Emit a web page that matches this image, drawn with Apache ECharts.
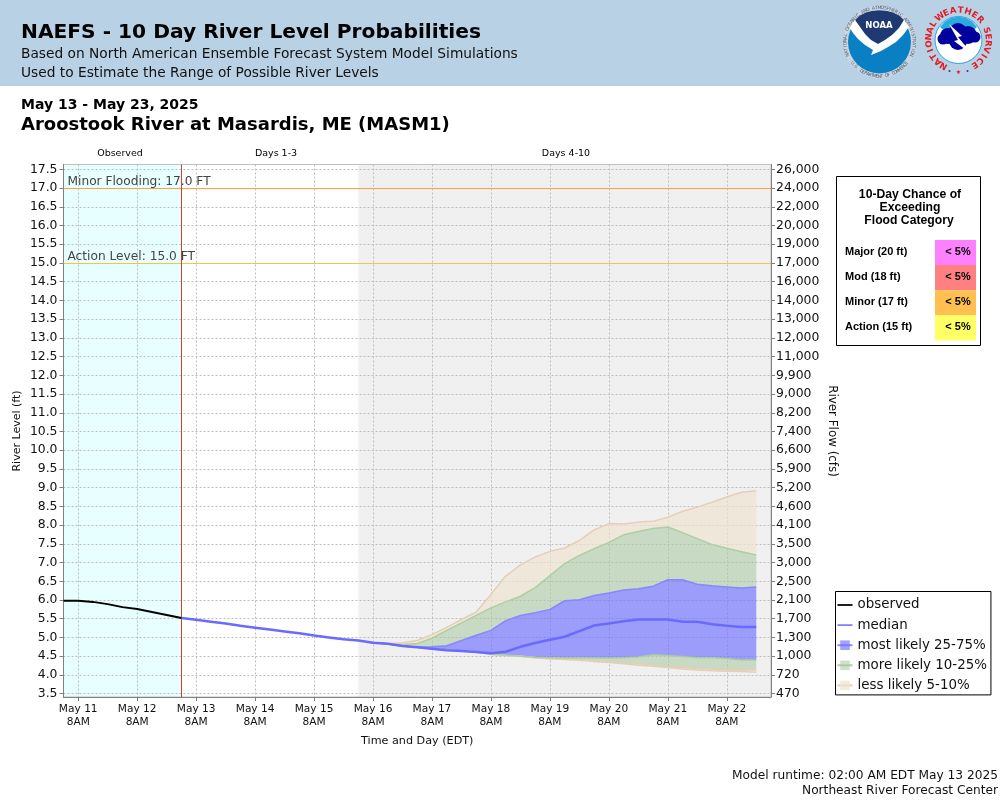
<![CDATA[<!DOCTYPE html>
<html>
<head>
<meta charset="utf-8">
<style>html,body{margin:0;padding:0;background:#fff}#container{width:1000px;height:800px}</style>
<script src="https://cdn.jsdelivr.net/npm/echarts@6/dist/echarts.min.js"></script>
</head>
<body>
<div id="container"></div>
<script>
// left axis stages, and the flow label printed opposite each one
var stageTicks = [3.5,4,4.5,5,5.5,6,6.5,7,7.5,8,8.5,9,9.5,10,10.5,11,11.5,12,12.5,13,13.5,14,14.5,15,15.5,16,16.5,17,17.5];
var flowLabels = ['470','720','1,000','1,300','1,700','2,100','2,500','3,000','3,500','4,100','4,600','5,200','5,900','6,600','7,400','8,200','9,000','9,900','11,000','12,000','13,000','14,000','16,000','17,000','19,000','20,000','22,000','24,000','26,000'];
var dayLabels = ['May 11','May 12','May 13','May 14','May 15','May 16','May 17','May 18','May 19','May 20','May 21','May 22'];

// every series is 6-hourly
var observedStart = '2025-05-11T02:00:00';
var observed = [5.98,5.98,5.95,5.89,5.81,5.76,5.68,5.60,5.52];

var medianStart = '2025-05-13T02:00:00';
var median = [5.52,5.47,5.42,5.37,5.31,5.26,5.21,5.16,5.11,5.05,5.00,4.95,4.92,
    4.86,4.83,4.77,4.74,4.70,4.66,4.64,4.61,4.58,4.62,4.75,4.85,4.94,5.02,5.17,5.32,5.37,5.43,5.48,5.48,5.48,5.42,5.42,5.35,5.31,5.28,5.28];

var bandStart = '2025-05-16T08:00:00';
var p95 = [4.86,4.83,4.86,4.92,5.08,5.27,5.48,5.68,6.15,6.64,6.94,7.15,7.30,7.39,7.59,7.87,8.04,8.03,8.08,8.10,8.21,8.37,8.48,8.61,8.75,8.88,8.92];
var p90 = [4.86,4.83,4.81,4.84,4.98,5.19,5.39,5.59,5.79,5.95,6.10,6.33,6.65,6.97,7.19,7.37,7.54,7.74,7.83,7.91,7.95,7.80,7.64,7.48,7.38,7.29,7.20];
var p75 = [4.86,4.83,4.77,4.74,4.75,4.78,4.92,5.06,5.19,5.45,5.59,5.66,5.75,5.98,6.01,6.12,6.19,6.27,6.30,6.37,6.54,6.54,6.42,6.38,6.35,6.32,6.35];
var p25 = [4.86,4.83,4.77,4.74,4.70,4.66,4.64,4.61,4.55,4.53,4.50,4.47,4.46,4.45,4.46,4.45,4.45,4.46,4.48,4.54,4.52,4.49,4.46,4.46,4.44,4.40,4.40];
var p10 = [4.86,4.83,4.77,4.74,4.70,4.66,4.64,4.61,4.55,4.52,4.50,4.46,4.43,4.42,4.41,4.38,4.35,4.32,4.30,4.26,4.22,4.20,4.17,4.15,4.13,4.13,4.13];
var p5  = [4.86,4.83,4.77,4.74,4.70,4.66,4.64,4.61,4.55,4.52,4.50,4.46,4.43,4.41,4.39,4.36,4.33,4.30,4.26,4.23,4.20,4.16,4.13,4.11,4.10,4.09,4.07];

// flood chance table
var floodNames = ['Major (20 ft)','Mod (18 ft)','Minor (17 ft)','Action (15 ft)'];
var floodChance = ['< 5%','< 5%','< 5%','< 5%'];
var floodColors = ['#ff80ff','#ff8080','#ffc050','#ffff66'];

var SIX_HOURS = 6 * 3600 * 1000;
var axisStart = new Date('2025-05-11T02:00:00').getTime();
var axisEnd = new Date('2025-05-23T02:00:00').getTime();
var runtime = new Date('2025-05-13T02:00:00').getTime();
var days4to10 = new Date('2025-05-16T02:00:00').getTime();
var font = 'DejaVu Sans';

function toPairs(start, values) {
    var t0 = new Date(start).getTime();
    return values.map(function (v, i) { return [t0 + i * SIX_HOURS, v]; });
}
// value first: echarts stacks on the first numeric column
function bandPairs(values) {
    var t0 = new Date(bandStart).getTime();
    return values.map(function (v, i) { return [v, t0 + i * SIX_HOURS]; });
}
function diffPairs(upper, lower) {
    return bandPairs(upper.map(function (v, i) { return +(v - lower[i]).toFixed(2); }));
}

var dayTicks = dayLabels.map(function (d, i) { return axisStart + SIX_HOURS + i * 4 * SIX_HOURS; });

var BLUE = {fill: 'rgba(112,112,255,0.66)', line: 'rgba(130,130,255,0.9)'};
var GREEN = {fill: 'rgba(170,200,160,0.55)', line: 'rgba(170,205,160,0.95)'};
var TAN = {fill: 'rgba(240,226,210,0.7)', line: 'rgba(228,205,180,0.95)'};

function bandLayer(name, data, c) {
    return {
        name: name, type: 'line', stack: 'bands', data: data, z: 3,
        encode: {x: 1, y: 0},
        symbol: 'rect', symbolSize: 9, showSymbol: false,
        lineStyle: {color: c.line, width: 1.5},
        itemStyle: {color: c.fill, borderColor: c.line},
        areaStyle: {color: c.fill, opacity: 1}
    };
}

// graphic helpers
function txt(x, y, text, size, weight, extra) {
    return {
        type: 'text', x: x, y: y, silent: true,
        style: Object.assign({
            text: text, font: (weight || 'normal') + ' ' + size + 'px "' + font + '"',
            fill: '#000', textAlign: 'left', textVerticalAlign: 'middle'
        }, extra || {})
    };
}
// letters placed one by one around a circle, angles clockwise from the top
function ringText(text, cx, cy, r, from, to, size, weight, color, flip) {
    var out = [];
    for (var i = 0; i < text.length; i++) {
        var deg = from + (to - from) * i / (text.length - 1);
        var a = deg * Math.PI / 180;
        out.push({
            type: 'text', silent: true,
            x: cx + r * Math.sin(a), y: cy - r * Math.cos(a),
            rotation: -a + (flip ? Math.PI : 0),
            style: {text: text[i], font: weight + ' ' + size + 'px "' + font + '"', fill: color, textAlign: 'center', textVerticalAlign: 'middle'}
        });
    }
    return out;
}
function circle(cx, cy, r, fill, stroke) {
    return {type: 'circle', silent: true, shape: {cx: cx, cy: cy, r: r}, style: {fill: fill, stroke: stroke || null}};
}
function poly(points, fill) {
    return {type: 'polygon', silent: true, shape: {points: points}, style: {fill: fill}};
}

var graphics = [
    {type: 'rect', silent: true, shape: {x: 0, y: 0, width: 1000, height: 86}, style: {fill: '#b9d1e4'}},
    txt(21, 33, 'NAEFS - 10 Day River Level Probabilities', 20.2, 'bold'),
    txt(21, 54.5, 'Based on North American Ensemble Forecast System Model Simulations', 13.75, 'normal', {fill: '#111'}),
    txt(21, 73, 'Used to Estimate the Range of Possible River Levels', 13.75, 'normal', {fill: '#111'}),
    txt(21, 105, 'May 13 - May 23, 2025', 14, 'bold'),
    txt(21, 125.5, 'Aroostook River at Masardis, ME (MASM1)', 18, 'bold'),
    txt(120, 153.5, 'Observed', 9.5, 'normal', {textAlign: 'center'}),
    txt(276, 153.5, 'Days 1-3', 9.5, 'normal', {textAlign: 'center'}),
    txt(566, 153.5, 'Days 4-10', 9.5, 'normal', {textAlign: 'center'}),
    txt(998, 776, 'Model runtime: 02:00 AM EDT May 13 2025', 12.2, 'normal', {textAlign: 'right', fill: '#111'}),
    txt(998, 791, 'Northeast River Forecast Center', 12.2, 'normal', {textAlign: 'right', fill: '#111'}),

    // axis names, set by hand so they stay clear of the grid layout
    Object.assign(txt(17, 431, 'River Level (ft)', 11, 'normal', {textAlign: 'center', fill: '#111'}), {rotation: Math.PI / 2}),
    Object.assign(txt(832, 431, 'River Flow (cfs)', 11.9, 'normal', {textAlign: 'center', fill: '#111'}), {rotation: -Math.PI / 2}),

    // NOAA logo
    circle(879.5, 42, 36.5, '#c9d5e0'),
    circle(879.5, 42, 31.5, '#0a80c4'),
    poly([[855,20],[860,15.5],[866,12.5],[872,11],[879.5,10.5],[887,11],[893,12.5],[899,15.5],[904,20],[899,28],[892,35],[885,40],[878,44],[871,40],[865,34],[860,27]], '#1f3a72'),
    poly([[849,27],[855,20],[860,27],[865,34],[871,40],[878,44],[885,40],[892,35],[899,28],[904,20],[909,27],[903,35],[896,42],[888,47],[881,51],[871,55],[873,50],[865,45],[858,39],[853,33]], '#ffffff'),
    txt(879, 25.5, 'NOAA', 8.5, 'bold', {textAlign: 'center', fill: '#ffffff'}),

    // NWS logo
    circle(958.5, 40, 23.5, '#ffffff', '#29a3dc'),
    poly([[940,27],[945,21.5],[951,18],[958.5,16.5],[966,18],[972,21.5],[977,27],[968,35],[958.5,32],[949,35]], '#29abe2'),
    circle(948, 36, 8, '#00009c'), circle(958, 32, 9, '#00009c'), circle(968, 35, 9, '#00009c'),
    circle(975, 37, 5.5, '#00009c'), circle(943, 39, 5.5, '#00009c'), circle(958, 41, 9, '#00009c'),
    poly([[949,24],[962,36],[958,37],[973,55],[954,41],[958,40]], '#ffffff'),
    circle(949.5, 71, 1, '#1f3a9c'), circle(967.5, 71, 1, '#1f3a9c'),

    // flood chance box
    {type: 'rect', silent: true, shape: {x: 836.5, y: 176.5, width: 144, height: 169}, style: {fill: '#fff', stroke: '#000', lineWidth: 1}},
    txt(910, 195, '10-Day Chance of', 12, 'bold', {textAlign: 'center', font: 'bold 12.2px "Liberation Sans"'}),
    txt(910, 208, 'Exceeding', 12, 'bold', {textAlign: 'center', font: 'bold 12.2px "Liberation Sans"'}),
    txt(909, 221, 'Flood Category', 12, 'bold', {textAlign: 'center', font: 'bold 12.2px "Liberation Sans"'})
];

graphics = graphics.concat(
    ringText('NATIONAL OCEANIC AND ATMOSPHERIC ADMINISTRATION', 879.5, 42, 34.3, -112, 112, 4.6, 'normal', '#55606c'),
    ringText('U.S. DEPARTMENT OF COMMERCE', 879.5, 42, 34.3, 232, 128, 4.6, 'normal', '#55606c', true),
    ringText('NATIONAL', 958.5, 40, 29.5, -150, -58, 8.6, 'bold', '#e01b24'),
    ringText('WEATHER', 958.5, 40, 29.5, -39, 47, 8.6, 'bold', '#e01b24'),
    ringText('SERVICE', 958.5, 40, 29.5, 71, 147, 8.6, 'bold', '#e01b24', false)
);
graphics.push(txt(958.5, 72, '\u2605', 6, 'normal', {textAlign: 'center', fill: '#e01b24'}));

floodNames.forEach(function (name, i) {
    var top = 240 + i * 25.1;
    graphics.push({type: 'rect', silent: true, shape: {x: 935, y: top, width: 41, height: 25.2}, style: {fill: floodColors[i]}});
    graphics.push(txt(845, top + 11.5, name, 11, 'bold', {font: 'bold 11px "Liberation Sans"'}));
    graphics.push(txt(958, top + 11.5, floodChance[i], 11, 'bold', {textAlign: 'center', font: 'bold 11px "Liberation Sans"'}));
});

var dom = document.getElementById('container');
var myChart = echarts.init(dom, null, {renderer: 'canvas'});

var axisLabelStyle = {fontFamily: font, fontSize: 12.4, color: '#111', padding: [2, 0, 0, 0]};
var axisLine = {show: true, lineStyle: {color: '#808080', width: 1}};
// a bare line for the legend, the outer moves keep the icon's full height
var lineIcon = 'path://M0 0 L0 0 M0 10 L34 10 L34 14 L0 14 Z M0 24 L0 24';

var option = {
    animation: false,
    backgroundColor: '#fff',
    textStyle: {fontFamily: font},
    graphic: graphics,
    grid: {
        left: 63.5, top: 164.5, right: 229, bottom: 103, outerBoundsMode: 'none',
        show: true, backgroundColor: 'transparent', borderColor: '#c0c0c0', borderWidth: 1
    },
    legend: {
        left: 835.5, top: 591.5, orient: 'vertical', selectedMode: false,
        backgroundColor: '#fff', borderColor: '#000', borderWidth: 1,
        padding: [7, 4, 3, 1], itemWidth: 15, itemHeight: 12, itemGap: 7.1,
        textStyle: {fontFamily: font, fontSize: 13.4, color: '#111'},
        data: [
            {name: 'observed', icon: lineIcon},
            {name: 'median', icon: lineIcon},
            {name: 'most likely 25-75%'},
            {name: 'more likely 10-25%'},
            {name: 'less likely 5-10%'}
        ]
    },
    xAxis: {
        // timestamps on a plain value axis, ticks placed by hand at 8AM each day
        type: 'value', min: axisStart, max: axisEnd,
        name: 'Time and Day (EDT)', nameLocation: 'middle', nameGap: 39,
        nameTextStyle: {fontFamily: font, fontSize: 11.2, color: '#111'},
        axisLine: axisLine,
        axisTick: {show: true, length: 4, lineStyle: {color: '#808080'}, customValues: dayTicks},
        splitLine: {show: true, lineStyle: {color: '#bdbdbd', type: [2, 2], width: 1}},
        axisLabel: {
            customValues: dayTicks,
            fontFamily: font, fontSize: 10.6, color: '#111', lineHeight: 13.5, margin: 5,
            formatter: function (value) {
                return dayLabels[dayTicks.indexOf(value)] + '\n8AM';
            }
        }
    },
    yAxis: [{
        type: 'value', min: 3.41, max: 17.63,
        axisLine: axisLine,
        axisTick: {show: true, length: 4, lineStyle: {color: '#808080'}, customValues: stageTicks},
        splitLine: {show: true, lineStyle: {color: '#bdbdbd', type: [2, 2], width: 1}},
        axisLabel: Object.assign({}, axisLabelStyle, {
            margin: 6,
            customValues: stageTicks,
            formatter: function (value) { return value.toFixed(1); }
        })
    }, {
        type: 'value', position: 'right', min: 3.41, max: 17.63, alignTicks: false,
        axisLine: axisLine,
        axisTick: {show: true, length: 4, lineStyle: {color: '#808080'}, customValues: stageTicks},
        splitLine: {show: false},
        axisLabel: Object.assign({}, axisLabelStyle, {
            margin: 5,
            customValues: stageTicks,
            formatter: function (value) { return flowLabels[stageTicks.indexOf(value)]; }
        })
    }],
    series: [
        {
            // shaded periods, under the grid lines
            name: 'zones', type: 'line', data: [], z: -1, silent: true,
            markArea: {
                silent: true, z: -1,
                data: [
                    [{xAxis: axisStart, itemStyle: {color: '#e8ffff'}}, {xAxis: runtime}],
                    [{xAxis: days4to10, itemStyle: {color: '#f0f0f0'}}, {xAxis: axisEnd}]
                ]
            }
        },
        {
            name: 'levels', type: 'line', data: [], z: 2, silent: true,
            markLine: {
                silent: true, symbol: 'none', animation: false,
                data: [
                    {yAxis: 17, lineStyle: {color: '#ffa040', type: 'solid', width: 1},
                        label: {formatter: 'Minor Flooding: 17.0 FT', position: 'insideStartTop', distance: [4, 0], fontFamily: font, fontSize: 12.2, color: '#444'}},
                    {yAxis: 15, lineStyle: {color: '#f0c840', type: 'solid', width: 1},
                        label: {formatter: 'Action Level: 15.0 FT', position: 'insideStartTop', distance: [4, 0], fontFamily: font, fontSize: 12.2, color: '#444'}},
                    {xAxis: runtime, lineStyle: {color: '#d0402f', type: 'solid', width: 1}, label: {show: false}}
                ]
            }
        },
        // stacked bands: each layer is the gap between two percentiles
        {name: 'p5', type: 'line', stack: 'bands', data: bandPairs(p5), encode: {x: 1, y: 0}, z: 3, showSymbol: false,
            lineStyle: {color: TAN.line, width: 1.5}},
        bandLayer('lower 5-10%', diffPairs(p10, p5), TAN),
        bandLayer('lower 10-25%', diffPairs(p25, p10), GREEN),
        bandLayer('most likely 25-75%', diffPairs(p75, p25), BLUE),
        bandLayer('more likely 10-25%', diffPairs(p90, p75), GREEN),
        bandLayer('less likely 5-10%', diffPairs(p95, p90), TAN),
        {name: 'median', type: 'line', data: toPairs(medianStart, median), z: 5, showSymbol: false, symbol: 'none',
            lineStyle: {color: '#6a6aff', width: 2.5}, itemStyle: {color: '#8080ff'}},
        {name: 'observed', type: 'line', data: toPairs(observedStart, observed), z: 6, showSymbol: false, symbol: 'none',
            lineStyle: {color: '#000', width: 2}, itemStyle: {color: '#000'}}
    ]
};

myChart.setOption(option);
window.addEventListener('resize', myChart.resize);
</script>
</body>
</html>
]]>
